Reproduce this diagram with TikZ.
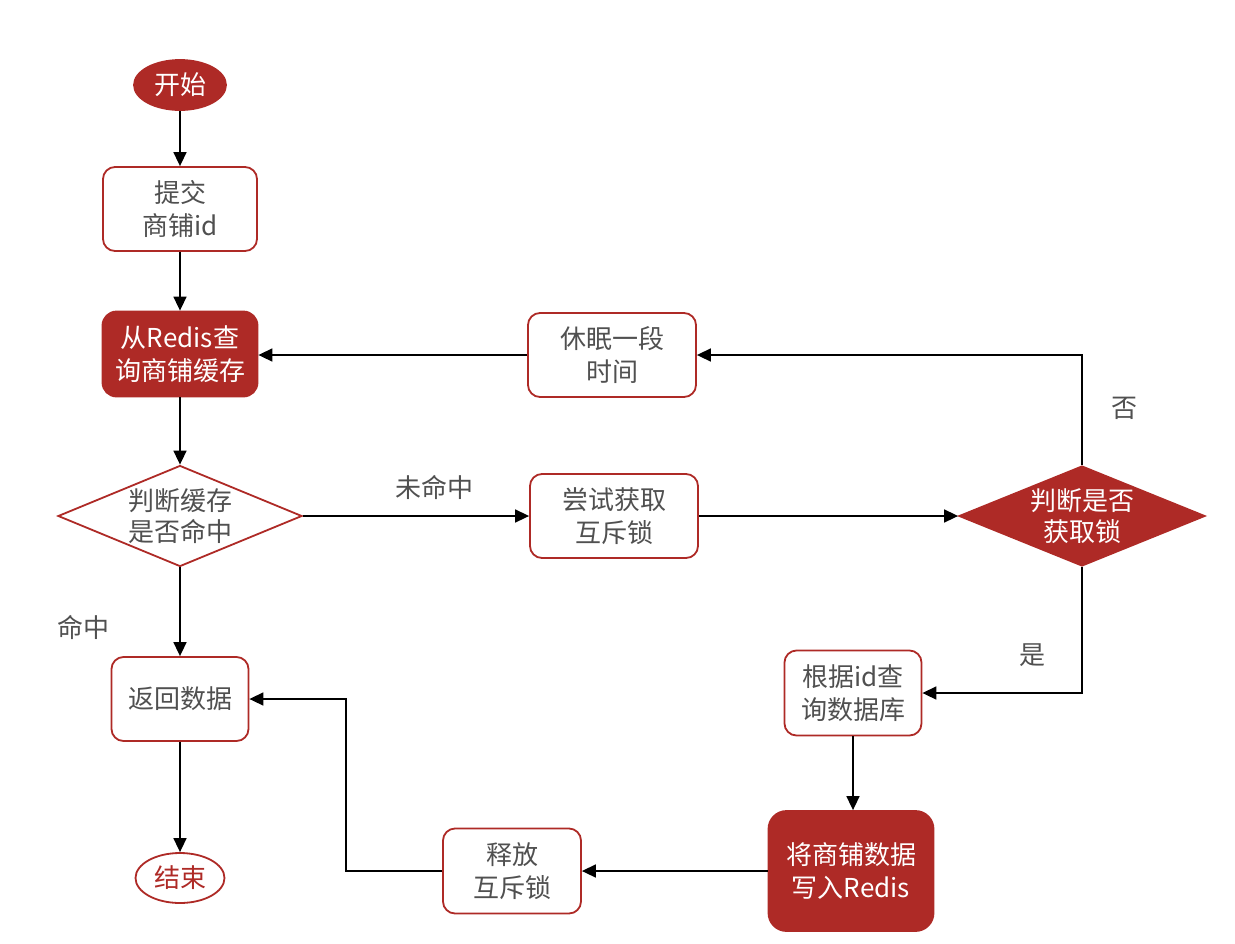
\documentclass[tikz,border=0pt]{standalone}
\usepackage{fontspec}
\setmainfont{Noto Sans CJK SC}
\usetikzlibrary{shapes.geometric,arrows.meta}
\definecolor{rd}{HTML}{AE2A26}
\definecolor{tx}{HTML}{505050}
\tikzset{
  every node/.style={font=\fontsize{26}{33}\selectfont, align=center, text=tx},
  wbox/.style={draw=rd, line width=1.8pt, fill=white, rounded corners=12pt, inner sep=0pt},
  rbox/.style={draw=rd, line width=1.8pt, fill=rd, rounded corners=14pt, inner sep=0pt, text=white},
  dtext/.style={font=\fontsize{26}{31}\selectfont},
  conn/.style={line width=1.6pt, -{Triangle[width=13pt,length=14pt]}},
  lbl/.style={text=tx}
}
\begin{document}
\begin{tikzpicture}[x=1pt,y=-1pt]
\useasboundingbox (0,0) rectangle (1235,943);
% nodes
\node[ellipse, fill=rd, draw=rd, line width=1.8pt, minimum width=92pt, minimum height=50pt, inner sep=0pt, text=white] (start) at (180,85) {开始};
\node[wbox, minimum width=154pt, minimum height=84pt] (submit) at (180,209) {提交\\商铺id};
\node[rbox, minimum width=155pt, minimum height=85pt] (query) at (180,354) {从Redis查\\询商铺缓存};
\node[diamond, draw=rd, line width=1.8pt, fill=white, minimum width=244pt, minimum height=101pt, inner sep=0pt] (hit) at (180,516) {};
\node[dtext] (hittext) at (180,516) {判断缓存\\是否命中};
\node[wbox, minimum width=137pt, minimum height=84pt] (ret) at (180,699) {返回数据};
\node[ellipse, draw=rd, line width=1.8pt, fill=white, minimum width=89pt, minimum height=50pt, inner sep=0pt, text=rd] (end) at (180,878) {结束};
\node[wbox, minimum width=168pt, minimum height=84pt] (try) at (614,516) {尝试获取\\互斥锁};
\node[wbox, minimum width=168pt, minimum height=84pt] (sleep) at (612,355) {休眠一段\\时间};
\node[diamond, draw=rd, line width=1.8pt, fill=rd, minimum width=246pt, minimum height=100pt, inner sep=0pt] (lock) at (1082,516) {};
\node[dtext, text=white] (locktext) at (1082,516) {判断是否\\获取锁};
\node[wbox, minimum width=137pt, minimum height=85pt] (db) at (853,693) {根据id查\\询数据库};
\node[rbox, rounded corners=18pt, minimum width=165pt, minimum height=120pt] (write) at (851,871) {将商铺数据\\写入Redis};
\node[wbox, minimum width=138pt, minimum height=85pt] (release) at (512,871) {释放\\互斥锁};
% labels
\node[lbl] (lmiss) at (434,487) {未命中};
\node[lbl] (lno) at (1124,408) {否};
\node[lbl] (lyes) at (1032,655) {是};
\node[lbl] (lhit) at (83,627) {命中};
% connectors
\draw[conn] (start) -- (submit);
\draw[conn] (submit) -- (query);
\draw[conn] (query) -- (hit.north);
\draw[conn] (hit.south) -- (ret);
\draw[conn] (ret) -- (end);
\draw[conn] (hit.east) -- (try.west);
\draw[conn] (try.east) -- (lock.west);
\draw[conn] (lock.north) |- (sleep.east);
\draw[conn] (sleep.west) -- (query.east |- sleep.west);
\draw[conn] (lock.south) |- (db.east);
\draw[conn] (db.south) -- (write.north -| db.south);
\draw[conn] (write.west) -- (release.east);
\coordinate (bend) at (346,871);
\draw[conn] (release.west) -- (bend) |- (ret.east);
\end{tikzpicture}
\end{document}
